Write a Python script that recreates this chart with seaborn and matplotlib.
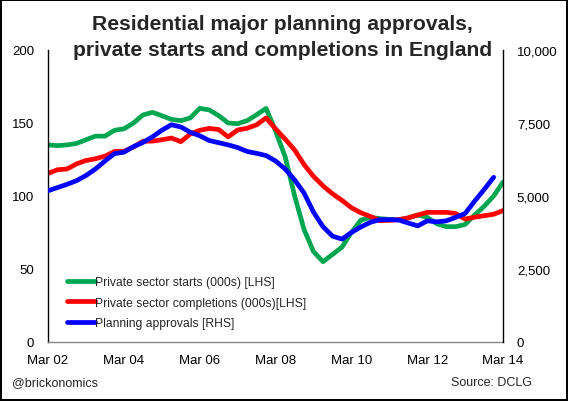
import matplotlib
matplotlib.use('Agg')
import matplotlib.pyplot as plt
import matplotlib.dates as mdates
from matplotlib.ticker import FuncFormatter, MultipleLocator
import seaborn as sns
import numpy as np
import pandas as pd

# ---- data (quarterly, Mar 02 .. Mar 14) ----
dates = pd.date_range('2002-03-01', '2014-03-01', freq='3MS')

starts = [135, 134.5, 135, 136, 138.5, 141, 141, 145, 146, 150,
          155.5, 157.3, 155, 152.5, 151.6, 153.5, 160, 159, 155, 150,
          149.5, 151.6, 155.7, 160, 144.5, 127, 100, 77, 62, 55,
          60, 65, 75, 83.5, 85.4, 84.5, 84, 83.8, 85, 87,
          85.4, 81, 79, 79, 80.5, 87, 93, 100, 109.5]

completions = [115.5, 118, 118.5, 122, 124.3, 125.5, 127.3, 130.5, 130.6, 133.5,
               137.5, 137.6, 138.5, 139.7, 137.2, 142.5, 145, 146.3, 145.5, 140.5,
               145.2, 146.4, 148.8, 153.5, 146, 139, 131.5, 121.5, 113.5, 107,
               101.5, 97, 92, 88.5, 86, 83.1, 83.3, 83.8, 85, 87,
               88.8, 88.8, 88.8, 88, 84.2, 85.5, 86.5, 87.5, 90]

approvals = [5180, 5290, 5400, 5525, 5700, 5925, 6200, 6450, 6500, 6690,
             6835, 7025, 7250, 7440, 7365, 7180, 7065, 6900, 6825, 6750,
             6660, 6525, 6460, 6385, 6200, 5925, 5550, 5100, 4450, 3950,
             3625, 3525, 3750, 3940, 4100, 4190, 4190, 4175, 4075, 3975,
             4150, 4115, 4150, 4270, 4400, 4825, 5225, 5640, np.nan]

labels = ['Private sector starts (000s) [LHS]',
          'Private sector completions (000s)[LHS]',
          'Planning approvals [RHS]']
title_lines = ['Residential major planning approvals,',
               'private starts and completions in England']

GREEN = '#00A650'
RED = '#FF0000'
BLUE = '#0000FF'

sns.set_style('white')
plt.rcParams['font.family'] = ['Liberation Sans', 'DejaVu Sans']

fig = plt.figure(figsize=(5.68, 4.02), dpi=100, linewidth=1.5, edgecolor='black')
W, H = 568, 402
L, R, T, B = 48, 503, 51, 343
ax = fig.add_axes([L / W, 1 - B / H, (R - L) / W, (B - T) / H])
ax2 = ax.twinx()

df = pd.DataFrame({'date': dates, 'starts': starts,
                   'completions': completions, 'approvals': approvals})

sns.lineplot(data=df, x='date', y='starts', ax=ax, color=GREEN, lw=3.4, label=labels[0])
sns.lineplot(data=df, x='date', y='completions', ax=ax, color=RED, lw=3.4, label=labels[1])
sns.lineplot(data=df, x='date', y='approvals', ax=ax2, color=BLUE, lw=3.4, label=labels[2])

if ax.get_legend():
    ax.get_legend().remove()
if ax2.get_legend():
    ax2.get_legend().remove()

ax.set_xlim(pd.Timestamp('2002-03-01'), pd.Timestamp('2014-03-01'))
ax.set_ylim(0, 200)
ax2.set_ylim(0, 10000)
ax.yaxis.set_major_locator(MultipleLocator(50))
ax2.yaxis.set_major_locator(MultipleLocator(2500))
ax2.yaxis.set_major_formatter(FuncFormatter(lambda v, p: f'{int(v):,}'))
ax.xaxis.set_major_locator(mdates.MonthLocator(bymonth=[3], interval=24))
ax.xaxis.set_major_formatter(mdates.DateFormatter('%b %y'))
ax.set_xlabel('')
ax.set_ylabel('')
ax2.set_ylabel('')

for a in (ax, ax2):
    a.spines['top'].set_visible(False)
ax.spines['left'].set_color('black')
ax.spines['left'].set_linewidth(1.0)
ax.spines['bottom'].set_color('#868686')
ax.spines['bottom'].set_linewidth(1.0)
ax.spines['right'].set_visible(False)
ax2.spines['left'].set_visible(False)
ax2.spines['bottom'].set_visible(False)
ax2.spines['right'].set_color('black')
ax2.spines['right'].set_linewidth(1.0)

ax.tick_params(axis='y', length=0, pad=10, labelsize=9.5, colors='black')
ax.tick_params(axis='x', length=0, pad=9, labelsize=9.5, colors='black')
ax2.tick_params(axis='y', length=0, pad=10, labelsize=9.5, colors='black')

h1, l1 = ax.get_legend_handles_labels()
h2, l2 = ax2.get_legend_handles_labels()
leg = ax2.legend(h1 + h2, l1 + l2, loc='center left', bbox_to_anchor=(0.042, 0.135),
                 frameon=False, fontsize=8.7, handlelength=2.3, handletextpad=0.0,
                 labelspacing=0.68, borderpad=0, borderaxespad=0)
for lh in leg.get_lines():
    lh.set_linewidth(3.4)

fig.text(0.497, 1 - 24 / H, title_lines[0], ha='center', va='center',
         fontsize=15.2, fontweight='bold')
fig.text(0.497, 1 - 50 / H, title_lines[1], ha='center', va='center',
         fontsize=15.2, fontweight='bold')

fig.text(12 / W, 1 - 383 / H, '@brickonomics', ha='left', va='center', fontsize=9)
fig.text(532 / W, 1 - 383 / H, 'Source: DCLG', ha='right', va='center', fontsize=9)

fig.savefig('out.png', dpi=100)
